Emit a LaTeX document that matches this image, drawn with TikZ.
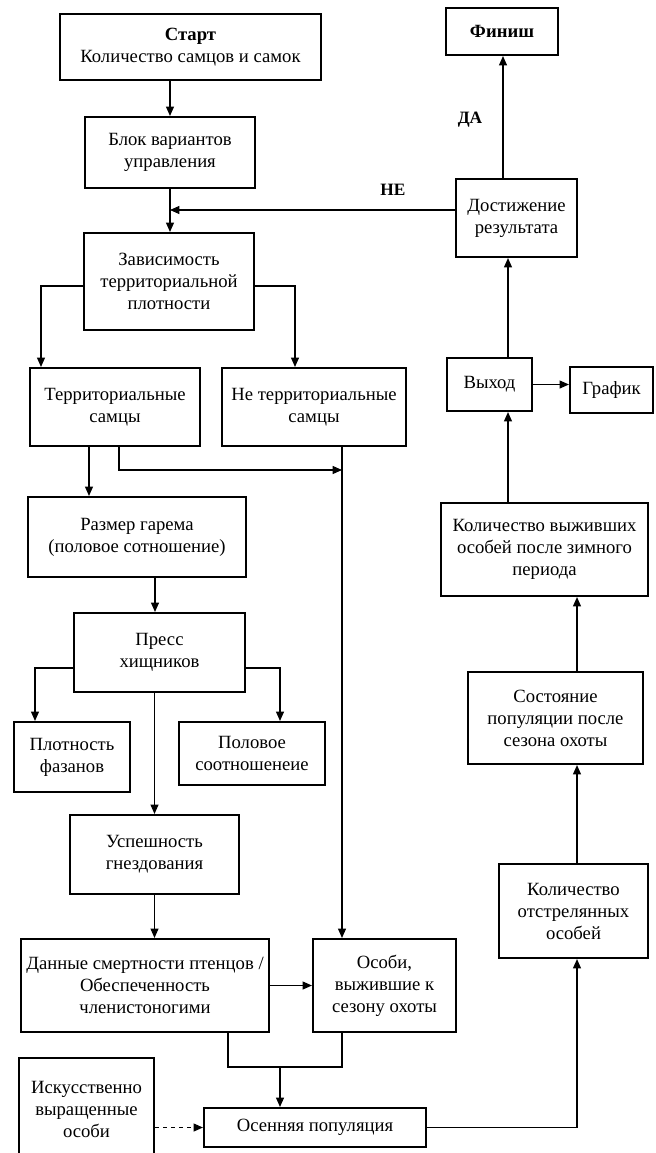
\documentclass[tikz,border=0pt]{standalone}
\usepackage{fontspec}
\setmainfont{Liberation Serif}
\usetikzlibrary{arrows.meta}

\tikzset{
  box/.style={draw, line width=1.6pt, align=center, inner sep=1pt,
    font=\fontsize{14}{16.5}\selectfont},
  lbl/.style={font=\fontsize{13}{15}\selectfont\bfseries},
  >={Triangle[length=7pt,width=6pt]}
}

\begin{document}
\begin{tikzpicture}[x=0.75pt,y=-0.75pt,line width=0.8pt]
        \useasboundingbox (0,0) rectangle (656,1153);

        % left column
        \node[box, minimum width=195.75pt, minimum height=49.5pt] (start) at (190.5,47) {\textbf{Старт}\\Количество самцов и самок};
        \node[box, minimum width=127.5pt, minimum height=53.25pt] (blok) at (170,152.5) {Блок вариантов\\управления};
        \node[box, minimum width=127.5pt, minimum height=72.75pt] (zav) at (169,281.5) {Зависимость\\территориальной\\плотности};
        \node[box, minimum width=127.5pt, minimum height=58.5pt] (terr) at (115,407) {Территориальные\\самцы};
        \node[box, minimum width=138pt, minimum height=58.5pt] (neterr) at (314,407) {Не территориальные\\самцы};
        \node[box, minimum width=163.5pt, minimum height=60pt] (razmer) at (137,537) {Размер гарема\\(половое сотношение)};
        \node[box, minimum width=128.25pt, minimum height=59.25pt] (press) at (159.5,652.5) {Пресс\\хищников};
        \node[box, minimum width=87pt, minimum height=52.5pt] (plotn) at (72,757) {Плотность\\фазанов};
        \node[box, minimum width=109.5pt, minimum height=47.25pt] (polovoe) at (252,753.5) {Половое\\соотношенеие};
        \node[box, minimum width=126.75pt, minimum height=59.25pt] (uspesh) at (154.5,854.5) {Успешность\\гнездования};
        \node[box, minimum width=186pt, minimum height=69.75pt] (dannye) at (145,985.5) {Данные смертности птенцов /\\Обеспеченность\\членистоногими};
        \node[box, minimum width=107.25pt, minimum height=69.75pt] (osobi) at (384.5,985.5) {Особи,\\выжившие к\\сезону охоты};
        \node[box, minimum width=101.25pt, minimum height=76.5pt] (iskus) at (86.5,1109) {Искусственно\\выращенные\\особи};
        \node[box, minimum width=166.5pt, minimum height=29.25pt] (osen) at (315,1127.5) {Осенняя популяция};

        % right column
        \node[box, minimum width=111.75pt, minimum height=70.5pt] (otstrel) at (573.5,911) {Количество\\отстрелянных\\особей};
        \node[box, minimum width=131.25pt, minimum height=69pt] (sostoyan) at (555.5,718) {Состояние\\популяции после\\сезона охоты};
        \node[box, minimum width=155.25pt, minimum height=69.75pt] (kolvyzh) at (544.5,549.5) {Количество выживших\\особей после зимного\\периода};
        \node[box, minimum width=63.75pt, minimum height=39.75pt] (vykhod) at (489.5,384.5) {Выход};
        \node[box, minimum width=62.25pt, minimum height=34.5pt] (grafik) at (611.5,390) {График};
        \node[box, minimum width=90.75pt, minimum height=58.5pt] (dostizh) at (516.5,218) {Достижение\\результата};
        \node[box, minimum width=84pt, minimum height=35.25pt] (finish) at (502,31.5) {\textbf{Финиш}};

        \node[lbl] (da) at (470,120) {ДА};
        \node[lbl] (nelbl) at (393,190) {НЕ};

        % bend points
        \coordinate (ne) at (170,210);
        \coordinate (zl) at (41,286);
        \coordinate (zr) at (295,286);
        \coordinate (tx) at (89,0);
        \coordinate (ty) at (119,470);
        \coordinate (sx) at (342,470);
        \coordinate (px) at (155,0);
        \coordinate (pl) at (35,668);
        \coordinate (pr) at (280,668);
        \coordinate (dj) at (228,1067);
        \coordinate (oj) at (342,1067);
        \coordinate (mj) at (280,1067);
        \coordinate (rx) at (577,0);
        \coordinate (vx) at (508,0);
        \coordinate (fx) at (503,0);

        \draw[->] (start.south -| blok.north) -- (blok.north);
        \draw[->] (blok.south) -- (blok.south |- zav.north);
        \draw[->] (dostizh.west |- ne) -- (ne);
        \draw[->] (zav.west |- zl) -- (zl) -- (zl |- terr.north);
        \draw[->] (zav.east |- zr) -- (zr) -- (zr |- neterr.north);
        \draw[->] (terr.south -| tx) -- (razmer.north -| tx);
        \draw[->] (terr.south -| ty) -- (ty) -- (sx);
        \draw[->] (neterr.south -| sx) -- (osobi.north -| sx);
        \draw[->] (razmer.south -| px) -- (press.north -| px);
        \draw[->] (press.west |- pl) -- (pl) -- (pl |- plotn.north);
        \draw[->] (press.east |- pr) -- (pr) -- (pr |- polovoe.north);
        \draw[->] (press.south -| uspesh.north) -- (uspesh.north);
        \draw[->] (uspesh.south) -- (uspesh.south |- dannye.north);
        \draw[->] (dannye.east |- osobi.west) -- (osobi.west);
        \draw (dannye.south -| dj) -- (dj) -- (oj) -- (osobi.south -| oj);
        \draw[->] (mj) -- (mj |- osen.north);
        \draw[->, dashed] (iskus.east |- osen.west) -- (osen.west);
        \draw[->] (osen.east) -| (otstrel.south -| rx);
        \draw[->] (otstrel.north -| rx) -- (sostoyan.south -| rx);
        \draw[->] (sostoyan.north -| rx) -- (kolvyzh.south -| rx);
        \draw[->] (kolvyzh.north -| vx) -- (vykhod.south -| vx);
        \draw[->] (vykhod.east) -- (vykhod.east -| grafik.west);
        \draw[->] (vykhod.north -| vx) -- (dostizh.south -| vx);
        \draw[->] (dostizh.north -| fx) -- (finish.south -| fx);
    \end{tikzpicture}
\end{document}
